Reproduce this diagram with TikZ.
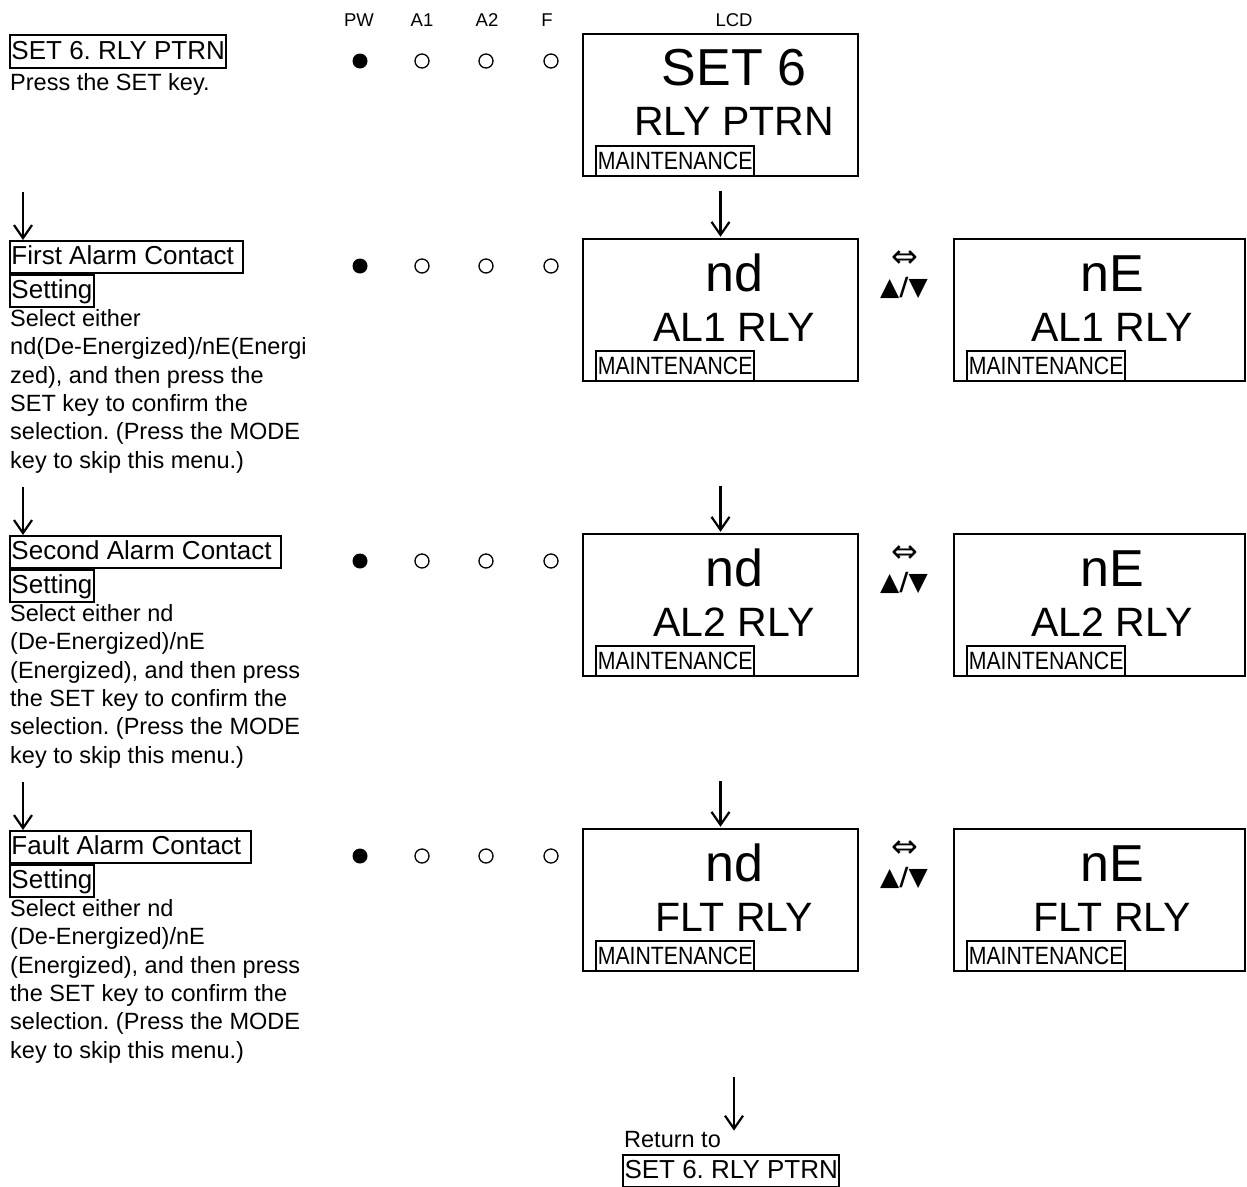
\documentclass[tikz,border=0pt]{standalone}
\usepackage{fontspec}
\setmainfont{Liberation Sans}
\newfontfamily\symfont{DejaVu Sans}
\usetikzlibrary{arrows.meta}
\frenchspacing
\newcommand\hdrfont{\fontsize{18.5}{20}\selectfont}
\newcommand\titfont{\fontsize{26}{32}\selectfont}
\newcommand\bodyfont{\fontsize{23.5}{28.4}\selectfont}
\newcommand\bigfont{\fontsize{52}{56}\selectfont}
\newcommand\midfont{\fontsize{41}{44}\selectfont}
\newcommand\mntfont{\fontsize{25}{26}\selectfont}
\newcommand\mnttext{\scalebox{0.85}[1]{MAINTENANCE}}
\begin{document}
\frenchspacing
\begin{tikzpicture}[x=1pt,y=-1pt,
  lcd/.style={draw, line width=2.4pt, minimum width=275pt, minimum height=142pt, inner sep=0pt},
  lcdr/.style={lcd, minimum width=291pt},
  mnt/.style={draw, line width=2pt, anchor=south west, inner xsep=2pt, inner ysep=0pt, minimum height=30pt, text height=18pt, text depth=2pt, font=\mntfont},
  bigtxt/.style={anchor=base, inner sep=0pt, font=\bigfont},
  midtxt/.style={anchor=base, inner sep=0pt, font=\midfont},
  hdr/.style={anchor=base, inner sep=0pt, font=\hdrfont},
  titbox/.style={draw, line width=2pt, anchor=north west, inner xsep=1.5pt, inner ysep=0pt, minimum height=32pt, text height=20pt, text depth=5pt, font=\titfont},
  body/.style={anchor=north west, inner sep=0pt, align=left, font=\bodyfont},
  ledon/.style={circle, fill=black, minimum size=15pt, inner sep=0pt},
  ledoff/.style={circle, draw, line width=1.3pt, minimum size=14pt, inner sep=0pt},
  arr/.style={line width=2.2pt, -{Straight Barb[length=13pt,width=18pt,line width=2.2pt]}},
  swap/.style={anchor=center, inner sep=0pt, font=\symfont\fontsize{32}{34}\selectfont},
  keys/.style={anchor=center, inner sep=0pt, font=\symfont\bfseries\fontsize{25}{27}\selectfont}
]
\useasboundingbox (0,0) rectangle (1247,1186);

% header
\node[hdr] (hpw) at (359,26) {PW};
\node[hdr] (ha1) at (422,26) {A1};
\node[hdr] (ha2) at (487,26) {A2};
\node[hdr] (hf) at (547,26) {F};
\node[hdr] (hlcd) at (734,26) {LCD};

% ===== Section 1 =====
\node[titbox, minimum height=33pt] (t1) at (9,34) {SET 6. RLY PTRN};
\node[body] (b1) at (10,73) {Press the SET key.};
\node[ledon] (p1) at (360,61) {};
\node[ledoff] (a11) at (422,61) {};
\node[ledoff] (a21) at (486,61) {};
\node[ledoff] (f1) at (551,61) {};
\node[lcd] (l1) at (720.5,105) {};
\node[bigtxt] (l1a) at (734,85) {SET 6};
\node[midtxt] (l1b) at (734,135) {RLY PTRN};
\node[mnt] (l1m) at ([xshift=13pt]l1.south west) {\mnttext};

% ===== Section 2 =====
\coordinate (la2) at (23,192);
\node[titbox] (t2a) at (9,240) {First Alarm Contact\kern8pt};
\node[titbox] (t2b) at (t2a.south west) {Setting};
\node[body] (b2) at (10,309) {Select either\\nd(De-Energized)/nE(Energi\\zed), and then press the\\SET key to confirm the\\selection. (Press the MODE\\key to skip this menu.)};
\node[ledon] (p2) at (360,266) {};
\node[ledoff] (a12) at (422,266) {};
\node[ledoff] (a22) at (486,266) {};
\node[ledoff] (f2) at (551,266) {};
\node[lcd] (l2) at (720.5,310) {};
\node[bigtxt] (l2a) at (734,291) {nd};
\node[midtxt] (l2b) at (734,341) {AL1 RLY};
\node[mnt] (l2m) at ([xshift=13pt]l2.south west) {\mnttext};
\node[swap] (s2) at (905,259) {⇔};
\node[keys] (k2) at (904,288) {▲/▼};
\node[lcdr] (r2) at (1099.5,310) {};
\node[bigtxt] (r2a) at (1112,291) {nE};
\node[midtxt] (r2b) at (1112,341) {AL1 RLY};
\node[mnt] (r2m) at ([xshift=13pt]r2.south west) {\mnttext};
\draw[arr] (la2) -- (la2 |- t2a.north);
\draw[arr, shorten >=1pt] ([yshift=47pt]l2.north) -- (l2.north);

% ===== Section 3 =====
\coordinate (la3) at (23,487);
\node[titbox] (t3a) at (9,535) {Second Alarm Contact\kern8pt};
\node[titbox] (t3b) at (t3a.south west) {Setting};
\node[body] (b3) at (10,604) {Select either nd\\(De-Energized)/nE\\(Energized), and then press\\the SET key to confirm the\\selection. (Press the MODE\\key to skip this menu.)};
\node[ledon] (p3) at (360,561) {};
\node[ledoff] (a13) at (422,561) {};
\node[ledoff] (a23) at (486,561) {};
\node[ledoff] (f3) at (551,561) {};
\node[lcd] (l3) at (720.5,605) {};
\node[bigtxt] (l3a) at (734,586) {nd};
\node[midtxt] (l3b) at (734,636) {AL2 RLY};
\node[mnt] (l3m) at ([xshift=13pt]l3.south west) {\mnttext};
\node[swap] (s3) at (905,554) {⇔};
\node[keys] (k3) at (904,583) {▲/▼};
\node[lcdr] (r3) at (1099.5,605) {};
\node[bigtxt] (r3a) at (1112,586) {nE};
\node[midtxt] (r3b) at (1112,636) {AL2 RLY};
\node[mnt] (r3m) at ([xshift=13pt]r3.south west) {\mnttext};
\draw[arr] (la3) -- (la3 |- t3a.north);
\draw[arr, shorten >=1pt] ([yshift=47pt]l3.north) -- (l3.north);

% ===== Section 4 =====
\coordinate (la4) at (23,782);
\node[titbox] (t4a) at (9,830) {Fault Alarm Contact\kern8pt};
\node[titbox] (t4b) at (t4a.south west) {Setting};
\node[body] (b4) at (10,899) {Select either nd\\(De-Energized)/nE\\(Energized), and then press\\the SET key to confirm the\\selection. (Press the MODE\\key to skip this menu.)};
\node[ledon] (p4) at (360,856) {};
\node[ledoff] (a14) at (422,856) {};
\node[ledoff] (a24) at (486,856) {};
\node[ledoff] (f4) at (551,856) {};
\node[lcd] (l4) at (720.5,900) {};
\node[bigtxt] (l4a) at (734,881) {nd};
\node[midtxt] (l4b) at (734,931) {FLT RLY};
\node[mnt] (l4m) at ([xshift=13pt]l4.south west) {\mnttext};
\node[swap] (s4) at (905,849) {⇔};
\node[keys] (k4) at (904,878) {▲/▼};
\node[lcdr] (r4) at (1099.5,900) {};
\node[bigtxt] (r4a) at (1112,881) {nE};
\node[midtxt] (r4b) at (1112,931) {FLT RLY};
\node[mnt] (r4m) at ([xshift=13pt]r4.south west) {\mnttext};
\draw[arr] (la4) -- (la4 |- t4a.north);
\draw[arr, shorten >=1pt] ([yshift=47pt]l4.north) -- (l4.north);

% ===== Return =====
\coordinate (rs) at (734,1077);
\node[anchor=base west, inner sep=0pt, font=\bodyfont] (ret) at (624,1147) {Return to};
\node[titbox] (retbox) at (622,1154) {SET 6. RLY PTRN};
\draw[arr] (rs) -- (rs |- ret.north);
\end{tikzpicture}
\end{document}
